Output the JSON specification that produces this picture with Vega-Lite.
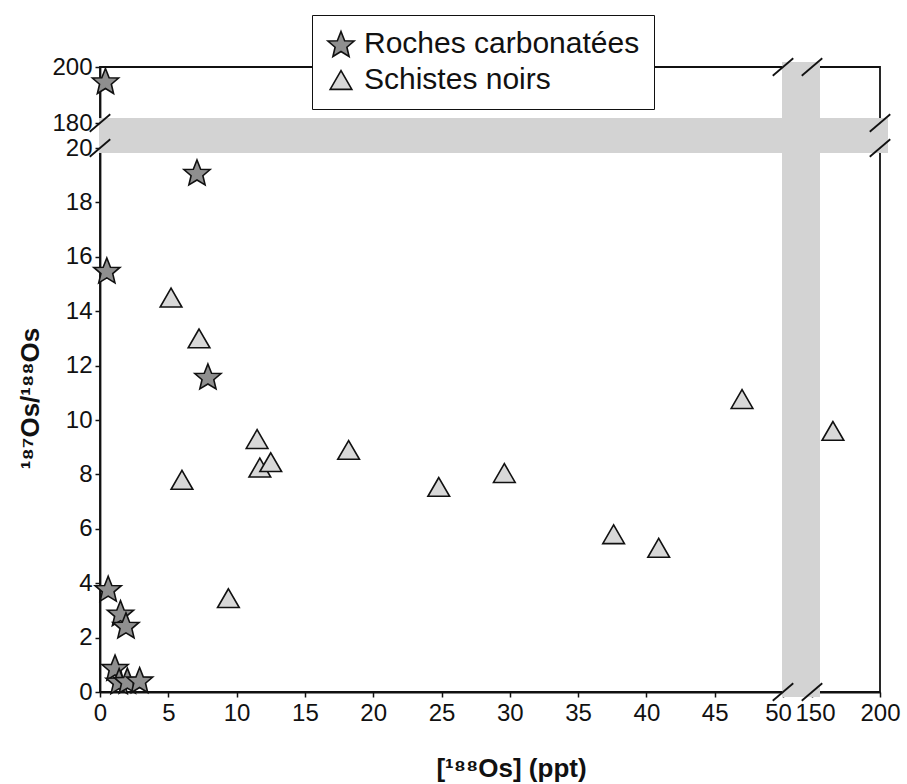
{
  "$schema": "https://vega.github.io/schema/vega-lite/v6.json",
  "autosize": {"type": "none"},
  "width": 780,
  "height": 625,
  "padding": {"left": 100, "top": 67, "right": 27, "bottom": 92},
  "background": "white",
  "config": {
    "font": "Liberation Sans",
    "view": {"stroke": "#111", "strokeWidth": 1.8},
    "axis": {
      "labelFont": "Liberation Sans", "labelFontSize": 24, "labelColor": "#111",
      "domainColor": "#111", "domainWidth": 1.8, "tickColor": "#111", "tickWidth": 1.5,
      "tickSize": 5, "grid": false, "labelPadding": 3,
      "titleFont": "Liberation Sans", "titleFontSize": 26, "titleFontWeight": "bold", "titleColor": "#111"
    },
    "legend": {
      "orient": "none", "legendX": 212, "legendY": -52,
      "padding": 14, "fillColor": "white", "strokeColor": "#111",
      "labelFont": "Liberation Sans", "labelFontSize": 30, "labelColor": "#111", "labelLimit": 500,
      "labelOffset": 8, "rowPadding": 5, "symbolSize": 470,
      "symbolStrokeWidth": 1.6
    }
  },
  "datasets": {
    "bands": [
      {"bx": 50, "bx2": 150, "by": 0, "by2": 200},
      {"bx": 0, "bx2": 200, "by": 20, "by2": 180}
    ],
    "points": [
      {"x": 0.4, "y": 195, "type": "Roches carbonatées"},
      {"x": 7.1, "y": 19.1, "type": "Roches carbonatées"},
      {"x": 0.5, "y": 15.5, "type": "Roches carbonatées"},
      {"x": 7.9, "y": 11.6, "type": "Roches carbonatées"},
      {"x": 0.6, "y": 3.8, "type": "Roches carbonatées"},
      {"x": 1.5, "y": 2.9, "type": "Roches carbonatées"},
      {"x": 1.9, "y": 2.45, "type": "Roches carbonatées"},
      {"x": 1.1, "y": 0.9, "type": "Roches carbonatées"},
      {"x": 1.4, "y": 0.4, "type": "Roches carbonatées"},
      {"x": 2.0, "y": 0.42, "type": "Roches carbonatées"},
      {"x": 2.9, "y": 0.44, "type": "Roches carbonatées"},
      {"x": 5.2, "y": 14.5, "type": "Schistes noirs"},
      {"x": 7.25, "y": 13.0, "type": "Schistes noirs"},
      {"x": 6.0, "y": 7.8, "type": "Schistes noirs"},
      {"x": 11.5, "y": 9.3, "type": "Schistes noirs"},
      {"x": 11.7, "y": 8.25, "type": "Schistes noirs"},
      {"x": 12.5, "y": 8.45, "type": "Schistes noirs"},
      {"x": 18.2, "y": 8.9, "type": "Schistes noirs"},
      {"x": 9.4, "y": 3.45, "type": "Schistes noirs"},
      {"x": 24.8, "y": 7.54, "type": "Schistes noirs"},
      {"x": 29.6, "y": 8.05, "type": "Schistes noirs"},
      {"x": 37.6, "y": 5.8, "type": "Schistes noirs"},
      {"x": 40.9, "y": 5.3, "type": "Schistes noirs"},
      {"x": 47.0, "y": 10.77, "type": "Schistes noirs"},
      {"x": 165.4, "y": 9.6, "type": "Schistes noirs"}
    ],
    "breaks": [
      {"kx": 50, "ky": 0}, {"kx": 150, "ky": 0},
      {"kx": 50, "ky": 200}, {"kx": 150, "ky": 200},
      {"kx": 0, "ky": 20}, {"kx": 0, "ky": 180},
      {"kx": 200, "ky": 20}, {"kx": 200, "ky": 180}
    ]
  },
  "encoding": {},
  "layer": [
    {
      "data": {"name": "bands"},
      "mark": {"type": "rect", "color": "#d3d3d3", "opacity": 1, "xOffset": -1, "x2Offset": 8, "yOffset": 5, "y2Offset": -5},
      "encoding": {
        "x": {"field": "bx", "type": "quantitative"},
        "x2": {"field": "bx2"},
        "y": {"field": "by", "type": "quantitative"},
        "y2": {"field": "by2"}
      }
    },
    {
      "data": {"name": "points"},
      "mark": {"type": "point", "filled": true, "opacity": 1, "strokeWidth": 1.6, "size": 470},
      "encoding": {
        "x": {
          "field": "x", "type": "quantitative",
          "scale": {"domain": [0, 50, 150, 200], "range": [0, 683, 712, 780], "nice": false, "zero": false},
          "axis": {
            "title": "[¹⁸⁸Os] (ppt)",
            "values": [0, 5, 10, 15, 20, 25, 30, 35, 40, 45, 50, 150, 200],
            "labelOverlap": false, "labelFlush": false, "labelPadding": 4,
            "labelOffset": {"expr": "datum.value == 50 ? -5 : datum.value == 150 ? 3 : 0"},
            "titleX": 411, "titleY": 76, "titleBaseline": "middle", "titleAnchor": "start", "titleAlign": "center"
          }
        },
        "y": {
          "field": "y", "type": "quantitative",
          "scale": {"domain": [0, 20, 180, 200], "range": [625, 81, 56, 0], "nice": false, "zero": false},
          "axis": {
            "title": "¹⁸⁷Os/¹⁸⁸Os",
            "values": [0, 2, 4, 6, 8, 10, 12, 14, 16, 18, 20, 180, 200],
            "labelOverlap": false, "labelFlush": false,
            "titleX": -70, "titleY": 331, "titleBaseline": "middle", "titleAlign": "center", "titleAngle": -90
          }
        },
        "shape": {
          "field": "type", "type": "nominal",
          "scale": {"domain": ["Roches carbonatées", "Schistes noirs"], "range": ["M0,-1.149L0.337,-0.292L1.208,-0.272L0.544,0.297L0.747,1.148L0,0.692L-0.747,1.148L-0.544,0.297L-1.208,-0.272L-0.337,-0.292Z", "triangle-up"]},
          "legend": {"title": null}
        },
        "fill": {
          "field": "type", "type": "nominal",
          "scale": {"domain": ["Roches carbonatées", "Schistes noirs"], "range": ["#8f8f8f", "#d8d8d8"]},
          "legend": {"title": null}
        },
        "stroke": {
          "field": "type", "type": "nominal",
          "scale": {"domain": ["Roches carbonatées", "Schistes noirs"], "range": ["#111111", "#111111"]},
          "legend": {"title": null}
        }
      }
    },
    {
      "data": {"name": "breaks"},
      "mark": {"type": "point", "shape": "M-1,0.85L1,-0.85", "filled": false, "stroke": "#111", "strokeWidth": 1.8, "size": 420, "opacity": 1},
      "encoding": {
        "x": {"field": "kx", "type": "quantitative"},
        "y": {"field": "ky", "type": "quantitative"}
      }
    }
  ]
}
